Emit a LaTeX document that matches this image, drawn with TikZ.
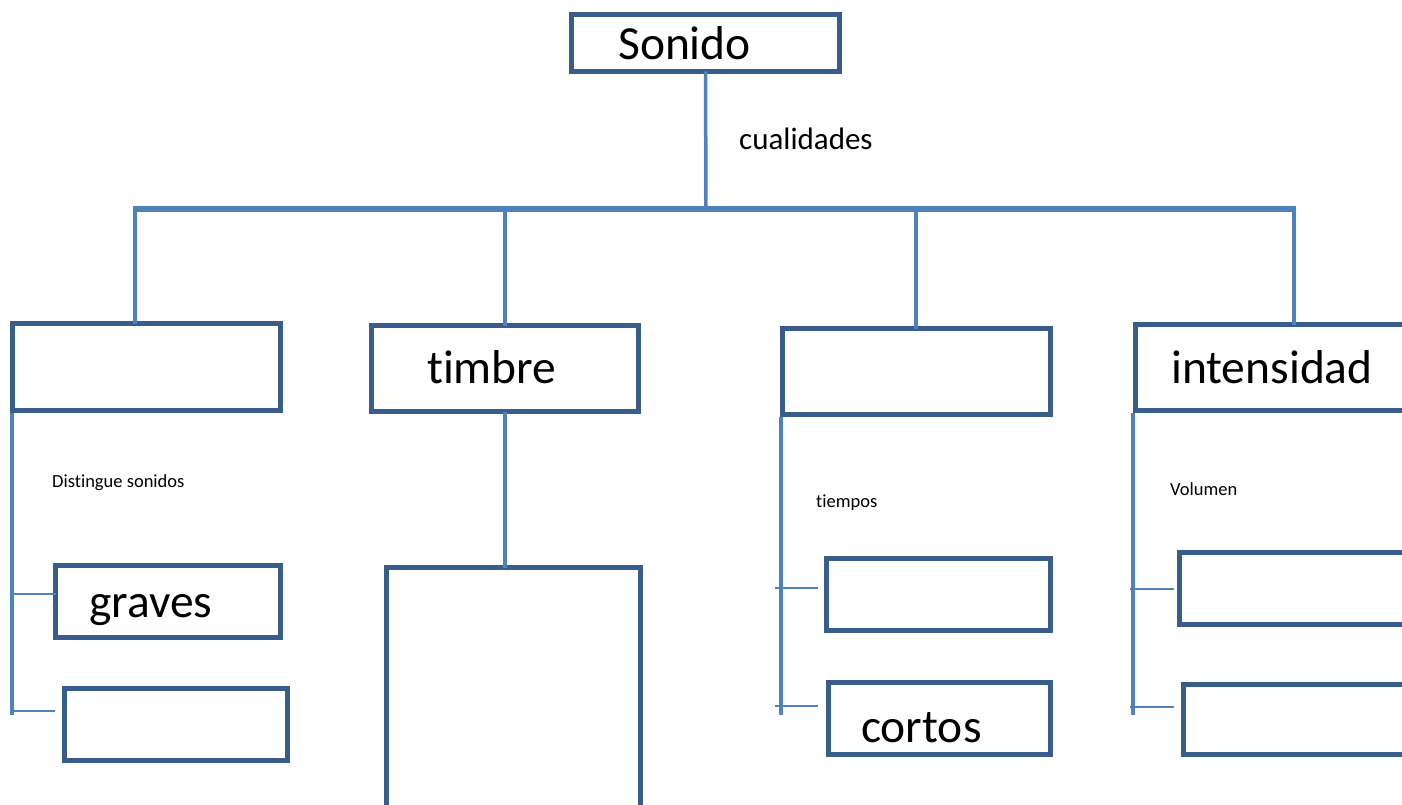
\documentclass[tikz,border=0pt]{standalone}
\usepackage{fontspec}
\setmainfont{Carlito}[Ligatures=NoCommon]
\definecolor{boxblue}{HTML}{385D8A}
\definecolor{lineblue}{HTML}{4F81BD}
\begin{document}
\begin{tikzpicture}[x=1pt,y=-1pt,
  box/.style={draw=boxblue, line width=5pt, rectangle, inner sep=0pt, outer sep=0pt, fill=white},
  big/.style={font=\fontsize{47.5}{50}\selectfont, inner sep=0pt, anchor=base west},
  small/.style={font=\fontsize{18.5}{20}\selectfont, inner sep=0pt, anchor=base west},
  main/.style={draw=lineblue, line width=5pt},
  drop/.style={draw=lineblue, line width=3.5pt},
  tick/.style={draw=lineblue, line width=2pt}
]
\useasboundingbox (0,0) rectangle (1402,805);
% boxes
\node[box, minimum width=268pt, minimum height=57pt] (son) at (705.5,43) {};
\node[box, minimum width=268pt, minimum height=87pt] (b1) at (146.5,367) {};
\node[box, minimum width=267pt, minimum height=86pt] (tim) at (505,368.5) {};
\node[box, minimum width=254pt, minimum height=270pt] (big) at (513.5,702.5) {};
\node[box, minimum width=268pt, minimum height=86pt] (b3) at (916.5,371.5) {};
\node[box, minimum width=282pt, minimum height=86pt] (int) at (1276.5,367.5) {};
\node[box, minimum width=225pt, minimum height=72pt] (gra) at (168,601.5) {};
\node[box, minimum width=223pt, minimum height=72pt] (l2) at (176,724.5) {};
\node[box, minimum width=224pt, minimum height=72pt] (t1) at (938.5,594.5) {};
\node[box, minimum width=222pt, minimum height=72pt] (cor) at (939.5,718.5) {};
\node[box, minimum width=243pt, minimum height=72pt] (i1) at (1301,588.5) {};
\node[box, minimum width=239pt, minimum height=70pt] (i2) at (1303,719.5) {};
% texts
\node[big] (tson) at (618,60) {Sonido};
\node[big] (ttim) at (427,383) {timbre};
\node[big] (tint) at (1171,383) {intensidad};
\node[big] (tgra) at (89,617) {graves};
\node[big] (tcor) at (861,742) {cortos};
\node[font=\fontsize{31}{34}\selectfont, inner sep=0pt, anchor=base west] (tcua) at (739,150) {cualidades};
\node[small] (tdis) at (52,487) {Distingue sonidos};
\node[small] (ttie) at (816,507) {tiempos};
\node[small] (tvol) at (1170,495) {Volumen};
% coordinates
\coordinate (hub) at (706,209);
\coordinate (hl) at (133,209);
\coordinate (hr) at (1296,209);
\coordinate (d1) at (135,209);
\coordinate (d2) at (505,209);
\coordinate (d3) at (916,209);
\coordinate (d4) at (1294,209);
% main tree
\draw[drop] (son.south) -- (hub);
\draw[main] (hl) -- (hr);
\draw[drop] (d1) -- (d1 |- b1.north);
\draw[drop] (d2) -- (d2 |- tim.north);
\draw[drop] (d3) -- (d3 |- b3.north);
\draw[drop] (d4) -- (d4 |- int.north);
\draw[drop] (tim.south) -- (d2 |- big.north);
% left branch
\coordinate (ltop) at (12,413);
\coordinate (lbot) at (12,715);
\coordinate (la1) at (12,594);
\coordinate (la2) at (12,711);
\coordinate (lt2) at (55,711);
\draw[drop] (ltop) -- (lbot);
\draw[tick] (la1) -- (la1 -| gra.west);
\draw[tick] (la2) -- (lt2);
% third branch
\coordinate (ttop) at (781,417);
\coordinate (tbot) at (781,715);
\coordinate (ta1) at (775,588);
\coordinate (ta2) at (775,706);
\coordinate (tt1) at (818,588);
\coordinate (tt2) at (818,706);
\draw[drop] (ttop) -- (tbot);
\draw[tick] (ta1) -- (tt1);
\draw[tick] (ta2) -- (tt2);
% intensidad branch
\coordinate (itop) at (1133,413);
\coordinate (ibot) at (1133,715);
\coordinate (ia1) at (1130,589);
\coordinate (ia2) at (1130,707);
\coordinate (it1) at (1174,589);
\coordinate (it2) at (1174,707);
\draw[drop] (itop) -- (ibot);
\draw[tick] (ia1) -- (it1);
\draw[tick] (ia2) -- (it2);
\end{tikzpicture}
\end{document}
